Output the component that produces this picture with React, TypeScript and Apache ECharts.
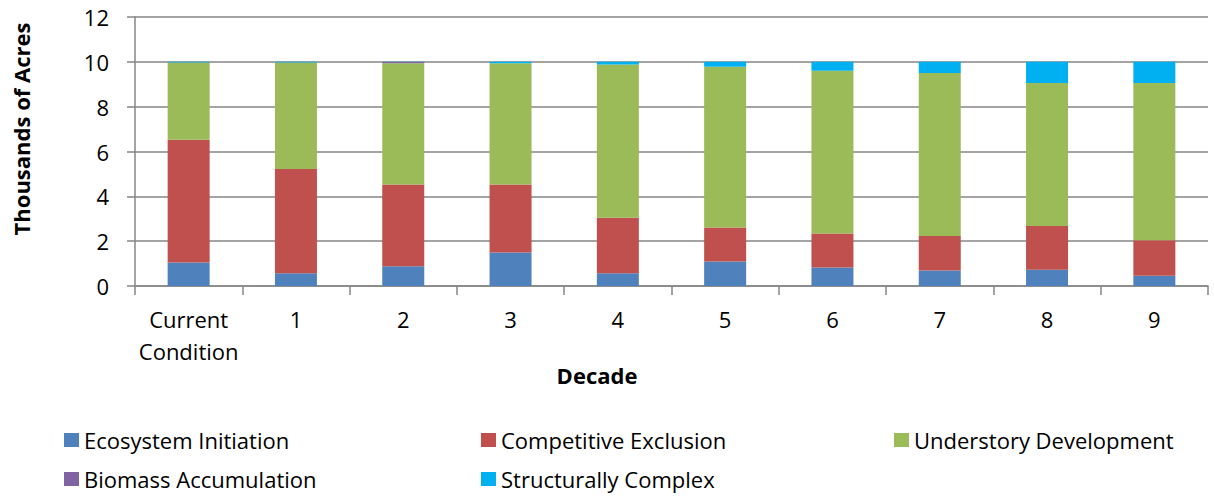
import React, { useEffect, useRef } from "react";
import * as echarts from "echarts";

const categories = ["Current\nCondition", "1", "2", "3", "4", "5", "6", "7", "8", "9"];
const ecosystemInitiation = [1.05, 0.57, 0.88, 1.5, 0.57, 1.09, 0.82, 0.69, 0.73, 0.46];
const competitiveExclusion = [5.47, 4.65, 3.65, 3.03, 2.47, 1.52, 1.52, 1.54, 1.95, 1.58];
const understoryDevelopment = [3.45, 4.75, 5.41, 5.41, 6.84, 7.17, 7.26, 7.27, 6.38, 7.02];
const biomassAccumulation = [0, 0, 0.05, 0, 0, 0, 0, 0, 0, 0];
const structurallyComplex = [0.03, 0.03, 0.01, 0.06, 0.12, 0.22, 0.4, 0.5, 0.94, 0.94];
const yTicks = { min: 0, max: 12, interval: 2 };

const FONT = "'Open Sans'";
const FS = 22;

const seriesDefs = [
  { name: "Ecosystem Initiation", data: ecosystemInitiation, color: "#4F81BD" },
  { name: "Competitive Exclusion", data: competitiveExclusion, color: "#C0504D" },
  { name: "Understory Development", data: understoryDevelopment, color: "#9BBB59" },
  { name: "Biomass Accumulation", data: biomassAccumulation, color: "#8064A2" },
  { name: "Structurally Complex", data: structurallyComplex, color: "#00B0F0" },
];

const legendPos = [
  { left: 59, top: 424 },
  { left: 476, top: 424 },
  { left: 889, top: 424 },
  { left: 59, top: 463 },
  { left: 476, top: 463 },
];

export default function App() {
  const ref = useRef<HTMLDivElement>(null);
  useEffect(() => {
    if (!ref.current) return;
    const chart = echarts.init(ref.current, undefined, { renderer: "svg" });
    chart.setOption({
      animation: false,
      textStyle: { fontFamily: FONT },
      grid: { left: 135, right: 6, top: 17, bottom: 212, containLabel: false },
      xAxis: {
        type: "category",
        data: categories,
        axisLine: { lineStyle: { color: "#868686", width: 1.5 } },
        axisTick: { show: true, length: 9, lineStyle: { color: "#868686", width: 1.5 } },
        axisLabel: { color: "#000", fontSize: FS, fontFamily: FONT, margin: 17, lineHeight: 32, interval: 0 },
      },
      yAxis: {
        type: "value",
        min: yTicks.min,
        max: yTicks.max,
        interval: yTicks.interval,
        axisLine: { show: true, lineStyle: { color: "#868686", width: 1.5 } },
        axisTick: { show: true, length: 8, lineStyle: { color: "#868686", width: 1.5 } },
        splitLine: { show: true, lineStyle: { color: "#868686", width: 1.5 } },
        axisLabel: { color: "#000", fontSize: FS, fontFamily: FONT, margin: 26 },
      },
      legend: seriesDefs.map((s, i) => ({
        data: [s.name],
        left: legendPos[i].left,
        top: legendPos[i].top,
        itemWidth: 15,
        itemHeight: 14,
        itemGap: 10,
        icon: "rect",
        textStyle: { color: "#000", fontSize: FS, fontFamily: FONT },
        selectedMode: false,
      })),
      graphic: [
        {
          type: "text",
          x: 21,
          y: 129,
          rotation: Math.PI / 2,
          style: {
            text: "Thousands of Acres",
            fontSize: FS,
            fontWeight: "bold",
            fontFamily: FONT,
            fill: "#000",
            align: "center",
            verticalAlign: "middle",
          },
        },
        {
          type: "text",
          x: 597,
          y: 375,
          style: {
            text: "Decade",
            fontSize: FS,
            fontWeight: "bold",
            fontFamily: FONT,
            fill: "#000",
            align: "center",
            verticalAlign: "middle",
          },
        },
      ],
      series: seriesDefs.map((s) => ({
        name: s.name,
        type: "bar",
        stack: "total",
        barWidth: 42,
        data: s.data,
        itemStyle: { color: s.color },
      })),
    });
    return () => chart.dispose();
  }, []);
  return <div ref={ref} style={{ width: 1214, height: 498, position: "absolute", left: 0, top: 0 }} />;
}
